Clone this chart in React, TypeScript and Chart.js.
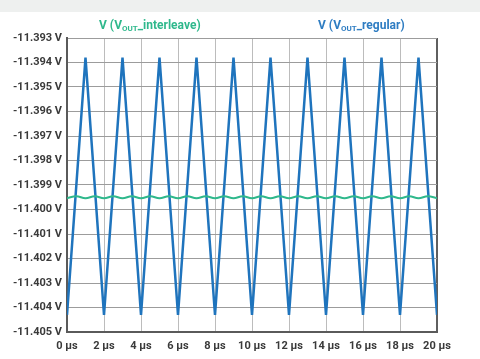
import React, { useEffect, useRef } from "react";
import { Chart, registerables } from "chart.js";

Chart.register(...registerables);

const regularTimes = [0, 1, 2, 3, 4, 5, 6, 7, 8, 9, 10, 11, 12, 13, 14, 15, 16, 17, 18, 19, 20];
const regularVolts = [
  -11.4043, -11.3938, -11.4043, -11.3938, -11.4043, -11.3938, -11.4043, -11.3938, -11.4043, -11.3938,
  -11.4043, -11.3938, -11.4043, -11.3938, -11.4043, -11.3938, -11.4043, -11.3938, -11.4043, -11.3938,
  -11.4043,
];

const interleaveTimes = [
  0, 0.5, 1, 1.5, 2, 2.5, 3, 3.5, 4, 4.5, 5, 5.5, 6, 6.5, 7, 7.5, 8, 8.5, 9, 9.5, 10,
  10.5, 11, 11.5, 12, 12.5, 13, 13.5, 14, 14.5, 15, 15.5, 16, 16.5, 17, 17.5, 18, 18.5, 19, 19.5, 20,
];
const interleaveVolts = [
  -11.39954, -11.39946, -11.39954, -11.39946, -11.39954, -11.39946, -11.39954, -11.39946, -11.39954,
  -11.39946, -11.39954, -11.39946, -11.39954, -11.39946, -11.39954, -11.39946, -11.39954, -11.39946,
  -11.39954, -11.39946, -11.39954, -11.39946, -11.39954, -11.39946, -11.39954, -11.39946, -11.39954,
  -11.39946, -11.39954, -11.39946, -11.39954, -11.39946, -11.39954, -11.39946, -11.39954, -11.39946,
  -11.39954, -11.39946, -11.39954, -11.39946, -11.39954,
];

const xTickValues = [0, 2, 4, 6, 8, 10, 12, 14, 16, 18, 20];
const yTickValues = [
  -11.405, -11.404, -11.403, -11.402, -11.401, -11.4, -11.399, -11.398, -11.397, -11.396, -11.395,
  -11.394, -11.393,
];

const BLUE = "#1f74bd";
const GREEN = "#2fb88c";
const TICK_FONT = { family: "Roboto", size: 11, weight: "bold" as const };

export default function App() {
  const canvasRef = useRef<HTMLCanvasElement | null>(null);

  useEffect(() => {
    if (!canvasRef.current) return;
    const chart = new Chart(canvasRef.current, {
      type: "line",
      data: {
        datasets: [
          {
            label: "V (VOUT_interleave)",
            data: interleaveTimes.map((t, i) => ({ x: t, y: interleaveVolts[i] })),
            borderColor: GREEN,
            borderWidth: 2,
            pointRadius: 0,
            tension: 0.4,
          },
          {
            label: "V (VOUT_regular)",
            data: regularTimes.map((t, i) => ({ x: t, y: regularVolts[i] })),
            borderColor: BLUE,
            borderWidth: 2.5,
            pointRadius: 0,
            tension: 0,
          },
        ],
      },
      options: {
        animation: false,
        responsive: false,
        events: [],
        layout: { padding: { left: 0, right: 43, top: 38, bottom: 0 } },
        plugins: { legend: { display: false }, tooltip: { enabled: false } },
        scales: {
          x: {
            type: "linear",
            min: 0,
            max: 20,
            afterBuildTicks: (s: any) => {
              s.ticks = xTickValues.map((v) => ({ value: v }));
            },
            afterFit: (s: any) => {
              s.height = 27;
            },
            ticks: {
              color: "#3a3a3a",
              font: TICK_FONT,
              padding: 8,
              maxRotation: 0,
              autoSkip: false,
              callback: (v: any) => `${v} µs`,
            },
            grid: {
              color: (c: any) => (c.tick && c.tick.value === 20 ? "#5f5f5f" : "#bcbcbc"),
              lineWidth: (c: any) => (c.tick && c.tick.value === 20 ? 2 : 1),
              drawTicks: false,
            },
            border: { color: "#5a5a5a", width: 2 },
          },
          y: {
            type: "linear",
            min: -11.405,
            max: -11.393,
            afterBuildTicks: (s: any) => {
              s.ticks = yTickValues.map((v) => ({ value: v }));
            },
            afterFit: (s: any) => {
              s.width = 67;
            },
            ticks: {
              color: "#3a3a3a",
              font: TICK_FONT,
              padding: 5,
              autoSkip: false,
              callback: (v: any) => `${Number(v).toFixed(3)} V`,
            },
            grid: {
              color: "#9c9c9c",
              lineWidth: 1,
              drawTicks: false,
            },
            border: { color: "#5a5a5a", width: 2 },
          },
        },
      },
    });
    return () => chart.destroy();
  }, []);

  const legendStyle: React.CSSProperties = {
    position: "absolute",
    top: 18,
    fontFamily: "Roboto",
    fontWeight: "bold",
    fontSize: 12,
    lineHeight: "15px",
    whiteSpace: "nowrap",
  };
  const subStyle: React.CSSProperties = { fontSize: 8, verticalAlign: "-2px" };

  return (
    <div style={{ position: "fixed", left: 0, top: 0, width: 480, height: 359, background: "#fff" }}>
      <div style={{ position: "absolute", left: 0, top: 0, width: 480, height: 12, background: "#eef0ef" }} />
      <canvas ref={canvasRef} width={480} height={359} style={{ position: "absolute", left: 0, top: 0 }} />
      <div style={{ ...legendStyle, left: 99, color: GREEN }}>
        V (V<span style={subStyle}>OUT</span>_interleave)
      </div>
      <div style={{ ...legendStyle, left: 318, color: "#2f7dc2" }}>
        V (V<span style={subStyle}>OUT</span>_regular)
      </div>
    </div>
  );
}
